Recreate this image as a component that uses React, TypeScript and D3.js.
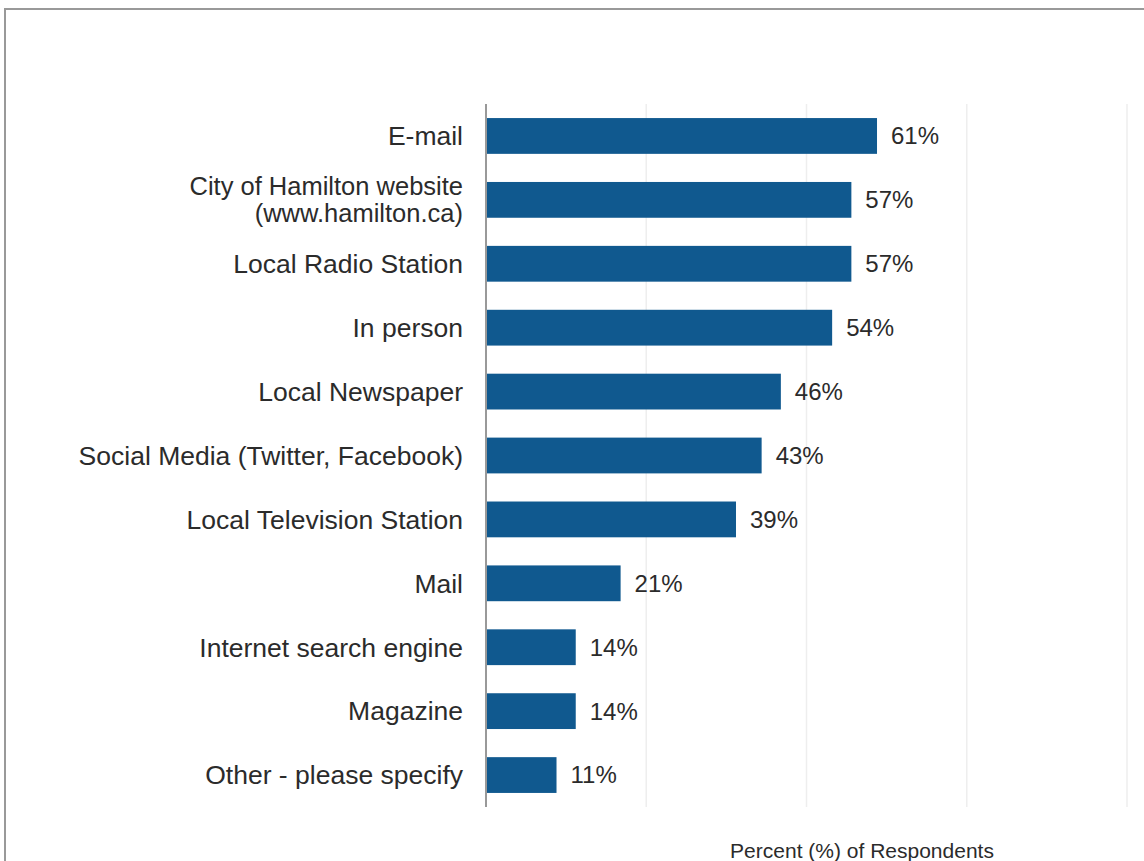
import React from "react";
import * as d3 from "d3";

const categories = [
  "E-mail",
  "City of Hamilton website\n(www.hamilton.ca)",
  "Local Radio Station",
  "In person",
  "Local Newspaper",
  "Social Media (Twitter, Facebook)",
  "Local Television Station",
  "Mail",
  "Internet search engine",
  "Magazine",
  "Other - please specify",
];
const values = [61, 57, 57, 54, 46, 43, 39, 21, 14, 14, 11];
const gridTicks = [0, 25, 50, 75, 100];
const axisTitle = "Percent (%) of Respondents";

const W = 1144;
const H = 861;
const left = 486;
const right = 1127;
const top = 104;
const bottom = 807;

export default function App() {
  const x = d3.scaleLinear().domain([0, 100]).range([left, right]);
  const y = d3.scaleBand<string>().domain(categories).range([top, bottom]).paddingInner(0.44).paddingOuter(0.22);
  const font = "Arial, 'Liberation Sans', sans-serif";
  return (
    <svg width={W} height={H} style={{ position: "absolute", left: 0, top: 0, background: "#fff" }} fontFamily={font}>
      <rect x={5} y={9} width={W + 10} height={H + 10} fill="#fff" stroke="#999" strokeWidth={2} />
      {gridTicks.slice(1).map((t) => (
        <line key={t} x1={x(t)} x2={x(t)} y1={top} y2={bottom} stroke="#eeeeee" strokeWidth={1.5} />
      ))}
      {categories.map((c, i) => {
        const yy = y(c)!;
        const bh = y.bandwidth();
        const cy = yy + bh / 2;
        const lines = c.split("\n");
        return (
          <g key={c}>
            <rect x={x(0)} y={yy} width={x(values[i]) - x(0)} height={bh} fill="#10598f" />
            <text x={x(values[i]) + 14} y={cy} dy="0.35em" fontSize={24} fill="#2b2b2b">
              {values[i]}%
            </text>
            {lines.map((l, k) => (
              <text
                key={k}
                x={left - 23}
                y={cy + (k - (lines.length - 1) / 2) * 27}
                dy="0.35em"
                textAnchor="end"
                fontSize={lines.length > 1 ? 25.5 : 26.5}
                fill="#2b2b2b"
              >
                {l}
              </text>
            ))}
          </g>
        );
      })}
      <line x1={left} x2={left} y1={top} y2={bottom} stroke="#999" strokeWidth={2} />
      <text x={862} y={858} textAnchor="middle" fontSize={21} fill="#2b2b2b">
        {axisTitle}
      </text>
    </svg>
  );
}
